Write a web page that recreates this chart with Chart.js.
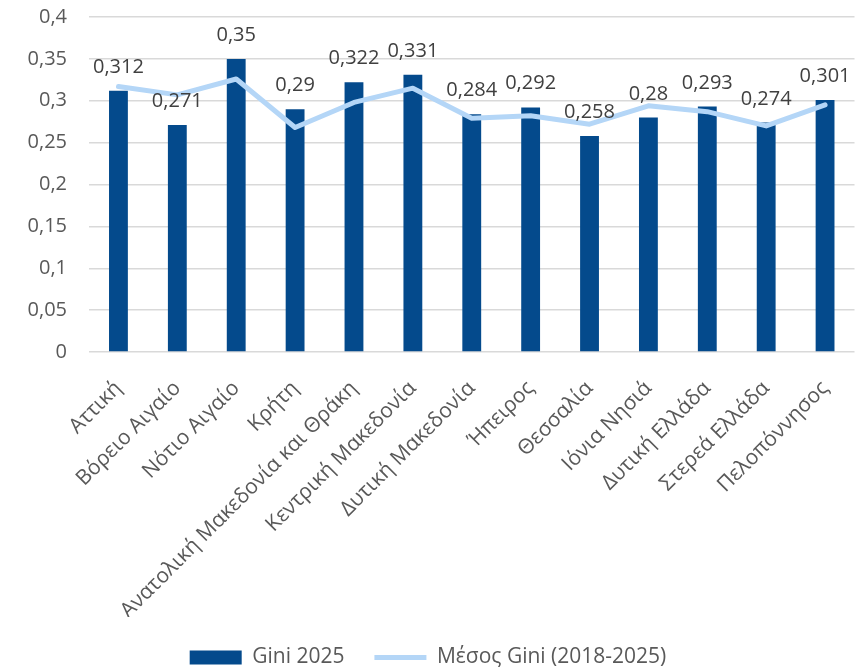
<!DOCTYPE html>
<html>
<head>
<meta charset="utf-8">
<script src="https://cdn.jsdelivr.net/npm/chart.js@4"></script>
<style>
  html, body { margin: 0; padding: 0; background: #fff; }
  #wrap { width: 859px; height: 670px; }
</style>
</head>
<body>
<div id="wrap"><canvas id="giniChart" width="859" height="670"></canvas></div>
<script>
const regions = ['Αττική', 'Βόρειο Αιγαίο', 'Νότιο Αιγαίο', 'Κρήτη', 'Ανατολική Μακεδονία και Θράκη',
    'Κεντρική Μακεδονία', 'Δυτική Μακεδονία', 'Ήπειρος', 'Θεσσαλία', 'Ιόνια Νησιά',
    'Δυτική Ελλάδα', 'Στερεά Ελλάδα', 'Πελοπόννησος'];
const gini2025 = [0.312, 0.271, 0.35, 0.29, 0.322, 0.331, 0.284, 0.292, 0.258, 0.28, 0.293, 0.274, 0.301];
const giniAvg = [0.317, 0.307, 0.326, 0.268, 0.298, 0.315, 0.279, 0.282, 0.272, 0.294, 0.287, 0.270, 0.295];
const yTicks = [0, 0.05, 0.1, 0.15, 0.2, 0.25, 0.3, 0.35, 0.4];

const fontFamily = "'Open Sans', sans-serif";
const textColor = '#595959';

function comma(v) {
    return String(Math.round(v * 1000) / 1000).replace('.', ',');
}

// simple value labels above the bars
const barLabels = {
    id: 'barLabels',
    afterDatasetsDraw(chart) {
        const ctx = chart.ctx;
        const meta = chart.getDatasetMeta(0);
        ctx.save();
        ctx.font = '20px ' + fontFamily;
        ctx.fillStyle = '#404040';
        ctx.textAlign = 'center';
        ctx.textBaseline = 'alphabetic';
        meta.data.forEach((bar, i) => {
            ctx.fillText(comma(gini2025[i]), bar.x, bar.y - 18);
        });
        ctx.restore();
    }
};

const ctx = document.getElementById('giniChart').getContext('2d');
new Chart(ctx, {
    type: 'bar',
    data: {
        labels: regions,
        datasets: [
            {
                label: 'Gini 2025',
                data: gini2025,
                backgroundColor: '#044A8C',
                barPercentage: 0.32,
                categoryPercentage: 1,
                order: 1
            },
            {
                type: 'line',
                label: 'Μέσος Gini (2018-2025)',
                data: giniAvg,
                borderColor: '#B4D6F7',
                backgroundColor: '#B4D6F7',
                borderWidth: 5,
                tension: 0,
                pointRadius: 0,
                borderJoinStyle: 'round',
                borderCapStyle: 'round',
                order: 0
            }
        ]
    },
    options: {
        responsive: false,
        animation: false,
        devicePixelRatio: 1,
        layout: {
            padding: { top: 17, left: 0, right: 3, bottom: -8 }
        },
        scales: {
            x: {
                grid: { display: false },
                border: { display: false },
                ticks: {
                    color: textColor,
                    font: { family: fontFamily, size: 21 },
                    maxRotation: 45,
                    minRotation: 45,
                    autoSkip: false,
                    padding: 16
                },
                afterFit(axis) {
                    axis.height = 265;
                    axis.paddingTop = 0;
                }
            },
            y: {
                min: 0,
                max: 0.4,
                afterBuildTicks(axis) {
                    axis.ticks = yTicks.map(v => ({ value: v }));
                },
                afterFit(axis) {
                    axis.width = 89;
                    axis.paddingTop = 0;
                },
                grid: { color: '#D9D9D9', lineWidth: 1.5, drawTicks: false },
                border: { display: false },
                ticks: {
                    color: textColor,
                    font: { family: fontFamily, size: 20 },
                    padding: 22,
                    callback: v => comma(v)
                }
            }
        },
        plugins: {
            legend: {
                position: 'bottom',
                labels: {
                    color: textColor,
                    font: { family: fontFamily, size: 21 },
                    usePointStyle: true,
                    pointStyleWidth: 52,
                    boxHeight: 14,
                    padding: 30,
                    generateLabels(chart) {
                        const items = Chart.defaults.plugins.legend.labels.generateLabels(chart);
                        items.sort((a, b) => a.datasetIndex - b.datasetIndex);
                        items.forEach(item => {
                            item.pointStyle = item.datasetIndex === 0 ? 'rect' : 'line';
                            if (item.datasetIndex === 1) {
                                item.strokeStyle = '#B4D6F7';
                                item.lineWidth = 5;
                            } else {
                                item.lineWidth = 0;
                            }
                        });
                        return items;
                    }
                }
            },
            tooltip: { enabled: false }
        }
    },
    plugins: [barLabels]
});
</script>
</body>
</html>
